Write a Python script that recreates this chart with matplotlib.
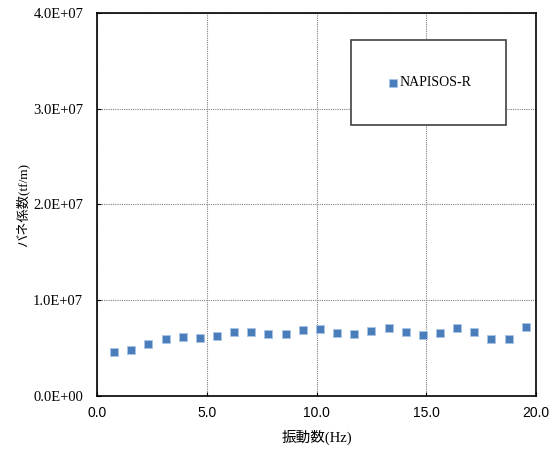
import matplotlib
matplotlib.use("Agg")
import matplotlib.pyplot as plt
from matplotlib.ticker import FixedLocator, FuncFormatter

# Frequency (Hz) and measured spring constant (tf/m)
freq = [0.78, 1.56, 2.34, 3.13, 3.91, 4.69, 5.47, 6.25, 7.03, 7.81,
        8.59, 9.38, 10.16, 10.94, 11.72, 12.50, 13.28, 14.06, 14.84, 15.63,
        16.41, 17.19, 17.97, 18.75, 19.53]
spring = [4.56e6, 4.84e6, 5.40e6, 5.98e6, 6.16e6, 6.03e6, 6.27e6, 6.68e6, 6.72e6, 6.44e6,
          6.51e6, 6.89e6, 7.00e6, 6.55e6, 6.48e6, 6.82e6, 7.10e6, 6.68e6, 6.37e6, 6.55e6,
          7.07e6, 6.65e6, 5.98e6, 5.98e6, 7.17e6]
series_name = "NAPISOS-R"
x_ticks = [0, 5, 10, 15, 20]
y_ticks = [0, 1e7, 2e7, 3e7, 4e7]

fig = plt.figure(figsize=(5.55, 4.54), dpi=100)
ax = fig.add_axes([0.1748, 0.1278, 0.791, 0.8436])

ax.scatter(freq, spring, marker="s", s=34, color="#4a7ebb",
           edgecolors="#a9c4e6", linewidths=0.6, zorder=3, label=series_name)

ax.set_xlim(0, 20)
ax.set_ylim(0, 4e7)
ax.xaxis.set_major_locator(FixedLocator(x_ticks))
ax.yaxis.set_major_locator(FixedLocator(y_ticks))
ax.xaxis.set_major_formatter(FuncFormatter(lambda v, p: f"{v:.1f}"))
ax.yaxis.set_major_formatter(FuncFormatter(lambda v, p: f"{v:.1E}"))

ax.grid(True, color="#808080", linestyle=(0, (1, 1)), linewidth=0.8)
ax.set_axisbelow(True)
for s in ax.spines.values():
    s.set_color("black")
    s.set_linewidth(1.2)

ax.tick_params(axis="both", direction="in", length=3, width=0.8, colors="black")
ax.tick_params(axis="y", pad=10)
ax.tick_params(axis="x", pad=7)
for lab in ax.get_yticklabels():
    lab.set_fontfamily("Liberation Serif")
    lab.set_fontsize(10.5)
for lab in ax.get_xticklabels():
    lab.set_fontfamily("Liberation Sans")
    lab.set_fontsize(10)

mixed = ["Liberation Serif", "Noto Sans CJK JP", "DejaVu Sans"]
ax.set_xlabel("振動数(Hz)", family=mixed, fontsize=10.5, labelpad=7)
ax.set_ylabel("バネ係数(tf/m)", family=mixed, fontsize=9.5, labelpad=3)

# legend box in axes coordinates
lx0, ly0, lw, lh = 0.579, 0.7076, 0.3531, 0.2201
leg = ax.legend(loc="center", bbox_to_anchor=(lx0, ly0, lw, lh),
                mode="expand", frameon=True, fancybox=False, borderaxespad=0,
                handletextpad=0.1, handlelength=0.8, borderpad=2.6,
                prop={"family": "Liberation Serif", "size": 10})
leg.get_frame().set_edgecolor("#404040")
leg.get_frame().set_linewidth(1.2)
leg.get_frame().set_alpha(1)

fig.savefig("out.png", dpi=100)
